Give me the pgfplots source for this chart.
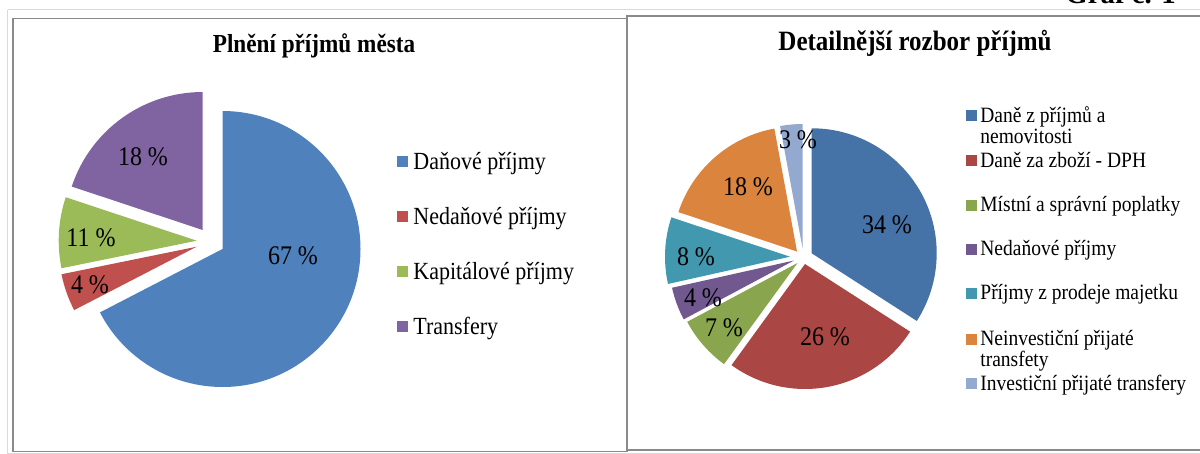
\documentclass[border=0pt]{standalone}
\usepackage{pgfplots}
\pgfplotsset{compat=1.18}
\usepackage{graphicx}
\usepackage{fontspec}
\setmainfont{Liberation Serif}
\definecolor{lblue}{HTML}{4F81BD}
\definecolor{lred}{HTML}{C0504D}
\definecolor{lgreen}{HTML}{9BBB59}
\definecolor{lpurple}{HTML}{8064A2}
\definecolor{rblue}{HTML}{4572A7}
\definecolor{rred}{HTML}{AA4643}
\definecolor{rgreen}{HTML}{89A54E}
\definecolor{rpurple}{HTML}{71588F}
\definecolor{rteal}{HTML}{4198AF}
\definecolor{rorange}{HTML}{DB843D}
\definecolor{rlblue}{HTML}{93A9CF}
\definecolor{framegray}{HTML}{8A8A8A}
\definecolor{lightline}{HTML}{D9D9D9}
\newcommand{\vs}[1]{\scalebox{1}[1.12]{#1}}
% slice: colour, vertex x, vertex y, cumulative share before (%), share (%), radius
\newcommand{\slice}[6]{\fill[#1] (axis cs:#2,#3) -- ++({90-3.6*(#4)}:#6) arc[start angle={90-3.6*(#4)}, end angle={90-3.6*((#4)+(#5))}, radius=#6] -- cycle;}
\newcommand{\lab}[3]{\node[anchor=center,inner sep=0pt,font=\fontsize{12pt}{14pt}\selectfont] at (axis cs:#1,#2) {\vs{#3}};}
\pgfplotsset{chartframe/.style={x=0.5pt, y=0.5pt, y dir=reverse, axis lines=box, ticks=none,
  axis line style={draw=framegray, line width=0.6pt}, clip=false, anchor=north west}}
\begin{document}
\begin{tikzpicture}
\useasboundingbox (0,0) rectangle (600pt,-227pt);
\clip (0,0) rectangle (600pt,-227pt);
% ---------- left chart ----------
\begin{axis}[chartframe, xmin=13, xmax=627, ymin=18.3, ymax=451.7, at={(6.5pt,-9.15pt)}]
\draw[lightline, line width=0.6pt] (axis cs:7.5,9.5) -- (axis cs:1210,9.5);
\draw[lightline, line width=0.6pt] (axis cs:7.5,9.5) -- (axis cs:7.5,453.5) -- (axis cs:1210,453.5);
\slice{lblue}{222.5}{249}{0}{67.4}{69pt}
\slice{lred}{196.7}{246.7}{67.4}{4.4}{69pt}
\slice{lgreen}{196.7}{240.7}{71.8}{8.3}{69pt}
\slice{lpurple}{202.7}{230}{80.1}{19.9}{69pt}
\lab{293}{256}{67 \%}
\lab{90}{285}{4 \%}
\lab{91}{238}{11 \%}
\lab{143}{157}{18 \%}
\node[anchor=base, inner sep=0pt, font=\fontsize{11.6pt}{14pt}\selectfont\bfseries] at (axis cs:314,52.5) {\vs{Plnění příjmů města}};
\addplot[only marks, mark=square*, mark size=2.5pt, color=lblue] coordinates {(402.5,161.7)};
\addplot[only marks, mark=square*, mark size=2.5pt, color=lred] coordinates {(402.5,216.7)};
\addplot[only marks, mark=square*, mark size=2.5pt, color=lgreen] coordinates {(402.5,271.7)};
\addplot[only marks, mark=square*, mark size=2.5pt, color=lpurple] coordinates {(402.5,326.7)};
\begin{scope}[every node/.style={anchor=base west, inner sep=0pt, font=\fontsize{11pt}{13pt}\selectfont}]
\node at (axis cs:413,169.7) {\vs{Daňové příjmy}};
\node at (axis cs:413,224.7) {\vs{Nedaňové příjmy}};
\node at (axis cs:413,279.7) {\vs{Kapitálové příjmy}};
\node at (axis cs:413,334.7) {\vs{Transfery}};
\end{scope}
\end{axis}
% ---------- right chart ----------
\begin{axis}[chartframe, xmin=627, xmax=1210, ymin=16, ymax=450, at={(313.5pt,-8pt)}]
\fill[white] (axis cs:628,17) rectangle (axis cs:1209,449);
\slice{rblue}{811.7}{253.3}{0}{34.1}{62.5pt}
\slice{rred}{805}{264}{34.1}{25.9}{62.5pt}
\slice{rgreen}{797.5}{263}{60.0}{7.2}{62.5pt}
\slice{rpurple}{794}{260.5}{67.2}{4.3}{62.5pt}
\slice{rteal}{790}{256.7}{71.5}{8.6}{62.5pt}
\slice{rorange}{797}{251.5}{80.1}{17.0}{62.5pt}
\slice{rlblue}{802.7}{249}{97.1}{2.9}{62.5pt}
\lab{887}{225}{34 \%}
\lab{825}{337}{26 \%}
\lab{724}{328}{7 \%}
\lab{703}{298}{4 \%}
\lab{696}{257}{8 \%}
\lab{748}{187}{18 \%}
\lab{798}{140}{3 \%}
\node[anchor=base, inner sep=0pt, font=\fontsize{12.5pt}{15pt}\selectfont\bfseries] at (axis cs:915,50) {\vs{Detailnější rozbor příjmů}};
\node[anchor=base west, inner sep=0pt, font=\fontsize{14.4pt}{16pt}\selectfont\bfseries] at (axis cs:1065,3.3) {Graf č. 1};
\addplot[only marks, mark=square*, mark size=2.5pt, color=rblue] coordinates {(971,115.7)};
\addplot[only marks, mark=square*, mark size=2.5pt, color=rred] coordinates {(971,160.7)};
\addplot[only marks, mark=square*, mark size=2.5pt, color=rgreen] coordinates {(971,205)};
\addplot[only marks, mark=square*, mark size=2.5pt, color=rpurple] coordinates {(971,249.3)};
\addplot[only marks, mark=square*, mark size=2.5pt, color=rteal] coordinates {(971,293.3)};
\addplot[only marks, mark=square*, mark size=2.5pt, color=rorange] coordinates {(971,339)};
\addplot[only marks, mark=square*, mark size=2.5pt, color=rlblue] coordinates {(971,383.7)};
\begin{scope}[every node/.style={anchor=base west, inner sep=0pt, font=\fontsize{9.75pt}{11pt}\selectfont}]
\node at (axis cs:980,122.2) {\vs{Daně z příjmů a}};
\node at (axis cs:980,143) {\vs{nemovitosti}};
\node at (axis cs:980,167.2) {\vs{Daně za zboží - DPH}};
\node at (axis cs:980,211.5) {\vs{Místní a správní poplatky}};
\node at (axis cs:980,255.8) {\vs{Nedaňové příjmy}};
\node at (axis cs:980,299.8) {\vs{Příjmy z prodeje majetku}};
\node at (axis cs:980,345.5) {\vs{Neinvestiční přijaté}};
\node at (axis cs:980,366.5) {\vs{transfety}};
\node at (axis cs:980,390.2) {\vs{Investiční přijaté transfery}};
\end{scope}
\end{axis}
\end{tikzpicture}
\end{document}
